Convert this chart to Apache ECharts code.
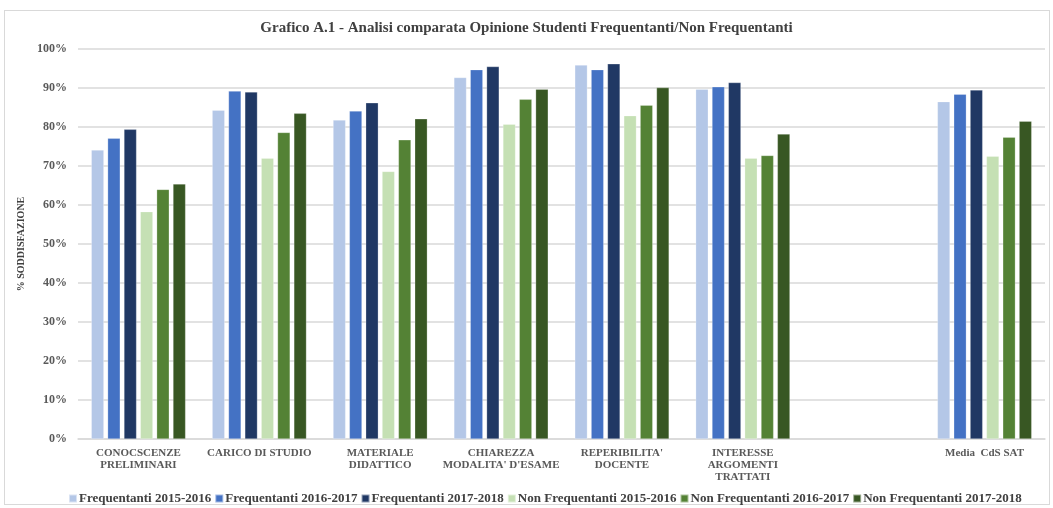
<!DOCTYPE html>
<html><head><meta charset="utf-8">
<script src="https://cdn.jsdelivr.net/npm/echarts@6/dist/echarts.min.js"></script>
<style>
html,body{margin:0;padding:0;background:#fff;}
#wrap{position:absolute;left:4px;top:10px;width:1046px;height:495px;border:1px solid #d9d9d9;box-sizing:border-box;}
#c{position:absolute;left:0;top:0;width:1053px;height:508px;}
</style></head>
<body>
<div id="wrap"></div>
<div id="c"></div>
<script>
const categories = ["CONOCSCENZE\nPRELIMINARI","CARICO DI STUDIO","MATERIALE\nDIDATTICO","CHIAREZZA\nMODALITA' D'ESAME","REPERIBILITA'\nDOCENTE","INTERESSE\nARGOMENTI\nTRATTATI","","Media  CdS SAT"];
const seriesNames = ["Frequentanti 2015-2016","Frequentanti 2016-2017","Frequentanti 2017-2018","Non Frequentanti 2015-2016","Non Frequentanti 2016-2017","Non Frequentanti 2017-2018"];
const freq1516 = [74.1, 84.3, 81.8, 92.7, 95.9, 89.7, null, 86.5];
const freq1617 = [77.1, 89.2, 84.1, 94.7, 94.7, 90.3, null, 88.4];
const freq1718 = [79.4, 89.0, 86.2, 95.5, 96.2, 91.4, null, 89.5];
const nonfreq1516 = [58.3, 72.0, 68.6, 80.7, 82.9, 72.0, null, 72.5];
const nonfreq1617 = [64.0, 78.6, 76.7, 87.1, 85.6, 72.7, null, 77.4];
const nonfreq1718 = [65.4, 83.5, 82.1, 89.7, 90.1, 78.2, null, 81.5];
const colors = ["#B4C7E7","#4472C4","#203864","#C5E0B4","#548235","#385723"];
const allData = [freq1516, freq1617, freq1718, nonfreq1516, nonfreq1617, nonfreq1718];

const serif = "'Liberation Serif','DejaVu Serif',serif";
const chart = echarts.init(document.getElementById('c'));
chart.setOption({
  animation:false,
  title:{text:"Grafico A.1 - Analisi comparata Opinione Studenti Frequentanti/Non Frequentanti",left:'center',top:16,
    textStyle:{fontFamily:serif,fontSize:15,fontWeight:'bold',color:'#404040'}},
  grid:{left:78,right:8,top:49,bottom:69},
  legend:{top:487,left:63,itemWidth:8,itemHeight:8,itemGap:3,icon:'rect',
    textStyle:{fontFamily:serif,fontSize:13,fontWeight:'bold',color:'#404040',padding:[0,0,0,-3]},
    data:seriesNames},
  xAxis:{type:'category',data:categories,
    axisLine:{lineStyle:{color:'#d9d9d9',width:1.5}},axisTick:{show:false},
    axisLabel:{interval:0,fontFamily:serif,fontSize:11,fontWeight:'bold',color:'#595959',lineHeight:12,margin:8}},
  yAxis:{type:'value',min:0,max:100,interval:10,
    name:'% SODDISFAZIONE',nameLocation:'middle',nameGap:48,
    nameTextStyle:{fontFamily:serif,fontSize:10,fontWeight:'bold',color:'#404040'},
    axisLabel:{formatter:'{value}%',fontFamily:serif,fontSize:12,fontWeight:'bold',color:'#595959',margin:11},
    splitLine:{lineStyle:{color:'#d9d9d9',width:1.5}},axisLine:{show:false},axisTick:{show:false}},
  series: seriesNames.map((n,i)=>({name:n,type:'bar',data:allData[i],barGap:'30%',barCategoryGap:'22%',
    itemStyle:{color:colors[i],borderColor:'rgba(255,255,255,0.5)',borderWidth:0.5}}))
});
</script>
</body></html>
